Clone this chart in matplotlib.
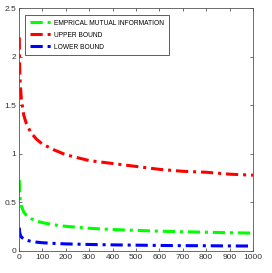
import matplotlib
matplotlib.use("Agg")
import matplotlib.pyplot as plt

plt.rcParams['font.family'] = ['Liberation Sans Narrow', 'Liberation Sans', 'DejaVu Sans']

n_vals = [1, 2, 3, 5, 10, 20, 30, 50, 75, 100, 150, 200, 300, 400, 500, 600, 700, 800, 900, 1000]
upper = [2.20, 1.98, 1.87, 1.73, 1.56, 1.40, 1.32, 1.22, 1.15, 1.10, 1.04, 0.99, 0.93, 0.90,
         0.87, 0.84, 0.82, 0.81, 0.79, 0.78]
emp = [0.73, 0.635, 0.586, 0.529, 0.461, 0.401, 0.370, 0.334, 0.308, 0.291, 0.268, 0.253,
       0.233, 0.220, 0.211, 0.203, 0.197, 0.192, 0.187, 0.183]
lower = [0.240, 0.205, 0.187, 0.167, 0.142, 0.122, 0.111, 0.099, 0.090, 0.084, 0.077, 0.072,
         0.066, 0.062, 0.059, 0.056, 0.054, 0.053, 0.051, 0.050]
labels = ['EMPRICAL MUTUAL INFORMATION', 'UPPER BOUND', 'LOWER BOUND']
xticks = list(range(0, 1001, 100))
yticks = [0, 0.5, 1, 1.5, 2, 2.5]

fig = plt.figure(figsize=(2.72, 2.73), dpi=100)
ax = fig.add_axes([0.070, 0.081, 0.860, 0.889])

dash = (4, 1.6, 1, 1.6)
lw = 2.2
ax.plot(n_vals, emp, color=(0, 1, 0), lw=lw, dashes=dash, label=labels[0])
ax.plot(n_vals, upper, color=(1, 0, 0), lw=lw, dashes=dash, label=labels[1])
ax.plot(n_vals, lower, color=(0, 0, 1), lw=lw, dashes=dash, label=labels[2])

ax.set_xlim(0, 1000)
ax.set_ylim(0, 2.5)
ax.set_xticks(xticks)
ax.set_yticks(yticks)
ax.set_yticklabels(['0', '0.5', '1', '1.5', '2', '2.5'])
ax.tick_params(direction='in', length=2.5, width=0.5, labelsize=6, colors='#333333',
               top=True, right=True, pad=2)
for s in ax.spines.values():
    s.set_linewidth(0.6)
    s.set_color('#555555')

leg = ax.legend(loc='upper left', fontsize=4.8, handlelength=3.4, handletextpad=0.2,
                borderpad=0.7, labelspacing=0.75, fancybox=False, framealpha=1,
                edgecolor='#444444', bbox_to_anchor=(0.027, 0.972), borderaxespad=0)
leg.get_frame().set_linewidth(0.6)

fig.savefig('out.png', dpi=100)
